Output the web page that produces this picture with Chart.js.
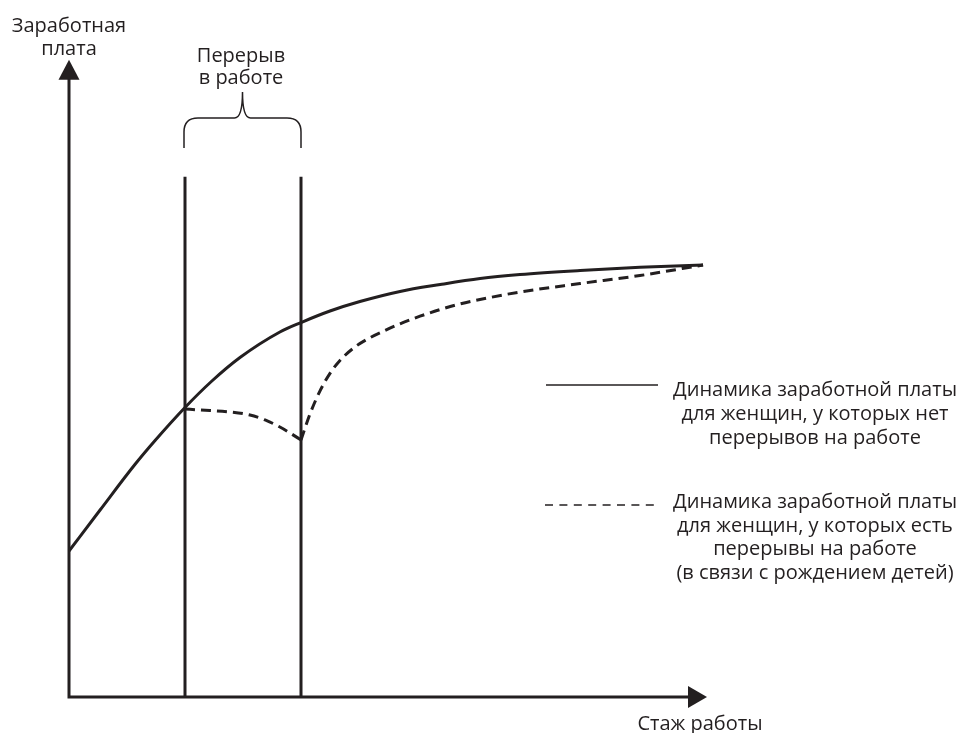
<!DOCTYPE html>
<html>
<head>
<meta charset="utf-8">
<script src="https://cdn.jsdelivr.net/npm/chart.js@4.4.1/dist/chart.umd.min.js"></script>
<style>
html,body{margin:0;padding:0;background:#fff;}
#wrap{width:963px;height:733px;}
</style>
</head>
<body>
<div id="wrap"><canvas id="c" width="963" height="733"></canvas></div>
<script>
// ---- data (years of work experience vs. relative wage level) ----
const solidX = [0, 1.34, 2.84, 3.71, 5.0, 6.16, 7.37, 9.09, 10.0, 11.25, 12.54, 14.27, 16.0, 17.72, 19.44, 22.03, 24.61, 27.33];
const solidY = [16.22, 20.78, 25.83, 28.5, 32.17, 35.11, 37.72, 40.56, 41.61, 42.89, 43.94, 45.06, 45.83, 46.5, 46.94, 47.39, 47.74, 48.0];

const dipX = [5.0, 5.65, 6.94, 7.8, 8.45, 9.09, 9.53, 10.0];
const dipY = [32.0, 31.89, 31.67, 31.33, 30.78, 30.0, 29.33, 28.56];

const recoveryX = [10.0, 10.39, 10.82, 11.25, 11.68, 12.33, 12.97, 13.62, 14.27, 15.13, 15.99, 16.85, 18.15, 19.44, 22.03, 24.61, 27.33];
const recoveryY = [28.56, 31.46, 34.01, 35.96, 37.4, 38.9, 39.92, 40.73, 41.46, 42.31, 43.04, 43.67, 44.39, 45.0, 45.94, 46.83, 48.0];

const breakStart = 5;
const breakEnd = 10;
const breakLineTop = 57.8;
const xAxisEnd = 27.5;
const yAxisEnd = 70.8;

const yAxisTitle = ['Заработная', 'плата'];
const xAxisTitle = 'Стаж работы';
const breakLabel = ['Перерыв', 'в работе'];
const legendSolid = ['Динамика заработной платы', 'для женщин, у которых нет', 'перерывов на работе'];
const legendDashed = ['Динамика заработной платы', 'для женщин, у которых есть', 'перерывы на работе', '(в связи с рождением детей)'];

const INK = '#231f20';
const FONT = '"Open Sans", "Noto Sans", sans-serif';

function pts(xs, ys) { return xs.map((x, i) => ({x: x, y: ys[i]})); }

const lineBase = {showLine: true, pointRadius: 0, borderColor: INK, backgroundColor: INK, fill: false, clip: false};

const datasets = [
  Object.assign({}, lineBase, {label: 'solid', data: pts(solidX, solidY), borderWidth: 3, cubicInterpolationMode: 'monotone'}),
  Object.assign({}, lineBase, {label: 'dip', data: pts(dipX, dipY), borderWidth: 3, borderDash: [10, 6], cubicInterpolationMode: 'monotone'}),
  Object.assign({}, lineBase, {label: 'recovery', data: pts(recoveryX, recoveryY), borderWidth: 3, borderDash: [10, 6], cubicInterpolationMode: 'monotone'}),
  Object.assign({}, lineBase, {label: 'break start', data: [{x: breakStart, y: 0}, {x: breakStart, y: breakLineTop}], borderWidth: 3}),
  Object.assign({}, lineBase, {label: 'break end', data: [{x: breakEnd, y: 0}, {x: breakEnd, y: breakLineTop}], borderWidth: 3}),
];

const decor = {
  id: 'decor',
  afterDatasetsDraw(chart) {
    const ctx = chart.ctx;
    const xs = chart.scales.x, ys = chart.scales.y;
    const ox = xs.getPixelForValue(0), oy = ys.getPixelForValue(0);
    const xt = xs.getPixelForValue(xAxisEnd), yt = ys.getPixelForValue(yAxisEnd);
    ctx.save();
    ctx.strokeStyle = INK; ctx.fillStyle = INK;
    // axes
    ctx.lineWidth = 3; ctx.lineCap = 'butt';
    ctx.beginPath();
    ctx.moveTo(ox, oy + 1.5); ctx.lineTo(ox, yt + 18);
    ctx.moveTo(ox - 1.5, oy); ctx.lineTo(xt - 17, oy);
    ctx.stroke();
    // arrowheads
    ctx.beginPath();
    ctx.moveTo(ox, yt); ctx.lineTo(ox - 10.5, yt + 20); ctx.lineTo(ox + 10.5, yt + 20); ctx.closePath();
    ctx.fill();
    ctx.beginPath();
    ctx.moveTo(xt, oy); ctx.lineTo(xt - 19, oy - 11); ctx.lineTo(xt - 19, oy + 11); ctx.closePath();
    ctx.fill();
    // brace over the break
    const bl = xs.getPixelForValue(breakStart) - 1, br = xs.getPixelForValue(breakEnd);
    const bm = (bl + br) / 2;
    const yb = 148, yh = 118, ytip = 92;
    ctx.lineWidth = 1.5;
    ctx.beginPath();
    ctx.moveTo(bl, yb);
    ctx.lineTo(bl, yh + 14);
    ctx.quadraticCurveTo(bl, yh, bl + 14, yh);
    ctx.lineTo(bm - 8, yh);
    ctx.quadraticCurveTo(bm, yh, bm, ytip);
    ctx.quadraticCurveTo(bm, yh, bm + 8, yh);
    ctx.lineTo(br - 14, yh);
    ctx.quadraticCurveTo(br, yh, br, yh + 14);
    ctx.lineTo(br, yb);
    ctx.stroke();
    // legend samples
    ctx.lineWidth = 1.5;
    ctx.beginPath(); ctx.moveTo(546, 385); ctx.lineTo(658, 385); ctx.stroke();
    ctx.setLineDash([8, 6.4]);
    ctx.beginPath(); ctx.moveTo(545, 505); ctx.lineTo(656, 505); ctx.stroke();
    ctx.setLineDash([]);
    // texts
    ctx.font = '20px ' + FONT;
    ctx.textAlign = 'center'; ctx.textBaseline = 'alphabetic';
    ctx.fillText(yAxisTitle[0], ox, 32);
    ctx.fillText(yAxisTitle[1], ox, 55);
    ctx.fillText(breakLabel[0], 241, 62);
    ctx.fillText(breakLabel[1], 241, 84);
    ctx.fillText(xAxisTitle, 700, 730);
    legendSolid.forEach((t, i) => ctx.fillText(t, 815, 396 + i * 24));
    legendDashed.forEach((t, i) => ctx.fillText(t, 815, 508 + i * 23.5));
    ctx.restore();
  }
};

new Chart(document.getElementById('c'), {
  type: 'scatter',
  data: {datasets: datasets},
  options: {
    responsive: false,
    devicePixelRatio: 1,
    animation: false,
    layout: {padding: {left: 69, right: 198, top: 49, bottom: 36}},
    scales: {
      x: {type: 'linear', min: 0, max: 30, display: false},
      y: {type: 'linear', min: 0, max: 72, display: false}
    },
    plugins: {legend: {display: false}, tooltip: {enabled: false}},
    elements: {line: {borderCapStyle: 'butt'}}
  },
  plugins: [decor]
});
</script>
</body>
</html>
